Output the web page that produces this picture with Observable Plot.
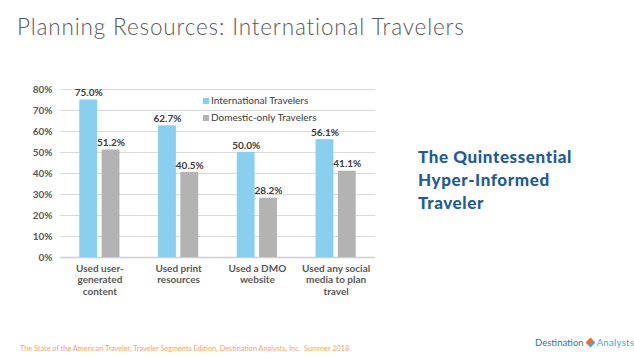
<!DOCTYPE html>
<html>
<head>
<meta charset="utf-8">
<script src="https://cdn.jsdelivr.net/npm/d3@7"></script>
<script src="https://cdn.jsdelivr.net/npm/@observablehq/plot@0.6"></script>
<style>
  html, body { margin: 0; padding: 0; background: #ffffff; }
  body { width: 634px; height: 358px; position: relative; overflow: hidden; font-family: Lato, "Open Sans", sans-serif; }
  #title { position: absolute; left: 17px; top: 13px; font-size: 22.5px; font-weight: 300; color: #595959; white-space: nowrap; letter-spacing: 0.85px; }
  #chart { position: absolute; left: 0; top: 0; width: 634px; height: 300px; }
  #chart svg { position: absolute; left: 0; top: 0; }
  #legend { position: absolute; left: 203px; top: 93px; font-size: 10px; color: #404040; font-weight: 400; }
  #legend .row { height: 16.6px; line-height: 15px; white-space: nowrap; }
  #legend .sw { display: inline-block; width: 6px; height: 6px; margin-right: 2px; vertical-align: 0px; }
  #callout { position: absolute; left: 418px; top: 145px; font-size: 17px; line-height: 23px; font-weight: 900; color: #1f5c99; letter-spacing: 0.6px; }
  #footer { position: absolute; left: 20px; top: 344px; font-size: 7.3px; color: #f5a468; white-space: nowrap; }
  #logo { position: absolute; left: 535px; top: 337px; font-size: 9.5px; white-space: nowrap; }
  #logo .d { color: #2f78ad; }
  #logo .a { color: #4aa3dc; letter-spacing: 0.3px; }
  #logo .dm { display: inline-block; width: 7px; height: 7px; transform: rotate(45deg); margin: 0 3px; background: linear-gradient(90deg, #f26b2a 50%, #4aa3dc 50%); vertical-align: 0px; }
</style>
</head>
<body>
<div id="title">Planning Resources: International Travelers</div>
<div id="chart"></div>
<div id="legend"></div>
<div id="callout">The Quintessential<br>Hyper-Informed<br>Traveler</div>
<div id="footer">The State of the American Traveler, Traveler Segments Edition, Destination Analysts, Inc.&nbsp; Summer 2018</div>
<div id="logo"><span class="d">Destination</span><span class="dm"></span><span class="a">Analysts</span></div>
<script>
// ---- data ----
const categories = ["ugc", "print", "dmo", "social"];
const categoryLabels = ["Used user-\ngenerated\ncontent", "Used print\nresources", "Used a DMO\nwebsite", "Used any social\nmedia to plan\ntravel"];
const series = ["International Travelers", "Domestic-only Travelers"];
const international = [75.0, 62.7, 50.0, 56.1];
const domestic = [51.2, 40.5, 28.2, 41.1];
const yTicks = [0, 10, 20, 30, 40, 50, 60, 70, 80];
const colors = ["#89cff0", "#b3b3b3"];

const rows = [];
categories.forEach((c, i) => {
  rows.push({category: c, series: series[0], value: international[i]});
  rows.push({category: c, series: series[1], value: domestic[i]});
});

const W = 634, H = 300;
const M = {left: 60, right: 259, top: 89, bottom: 43};
const font = {fontFamily: "Lato, 'Open Sans', sans-serif", fontSize: "10px", fontWeight: 700, color: "#595959"};
const fxLabel = d => categoryLabels[categories.indexOf(d)];

// background: gridlines + y axis
const back = Plot.plot({
  width: W, height: H,
  marginLeft: M.left, marginRight: M.right, marginTop: M.top, marginBottom: M.bottom,
  style: {...font, background: "transparent", overflow: "visible"},
  x: {axis: null},
  y: {domain: [0, 80], ticks: yTicks, tickFormat: d => d + "%", tickSize: 0, tickPadding: 8, label: null},
  marks: [
    Plot.ruleY(yTicks.filter(t => t > 0), {stroke: "#d9d9d9", strokeWidth: 1}),
    Plot.ruleY([0], {stroke: "#d0d0d0", strokeWidth: 1.5})
  ]
});

// foreground: grouped bars
const hasAxisMarks = typeof Plot.axisFx === "function";
const marks = [
  Plot.barY(rows, {x: "series", y: "value", fill: "series"}),
  Plot.text(rows, {x: "series", y: "value", text: d => d.value.toFixed(1) + "%", dy: -7,
                   fill: "#404040", fontSize: 10, fontWeight: 700})
];
if (hasAxisMarks) {
  marks.push(Plot.axisFx({anchor: "bottom", tickSize: 0, tickPadding: 6, label: null,
                          tickFormat: fxLabel, lineHeight: 1.15, fill: "#595959"}));
}
const front = Plot.plot({
  width: W, height: H,
  marginLeft: M.left, marginRight: M.right, marginTop: M.top, marginBottom: M.bottom,
  style: {...font, background: "transparent", overflow: "visible"},
  facet: {data: rows, x: "category"},
  fx: hasAxisMarks
    ? {domain: categories, paddingInner: 0.49, paddingOuter: 0.245, round: false, label: null}
    : {domain: categories, paddingInner: 0.49, paddingOuter: 0.245, round: false, axis: "bottom",
       tickSize: 0, tickPadding: 6, label: null, tickFormat: fxLabel},
  x: {domain: series, paddingInner: 0.2, paddingOuter: 0, round: false, axis: null},
  y: {domain: [0, 80], axis: null},
  color: {domain: series, range: colors},
  marks
});

const chart = document.getElementById("chart");
chart.appendChild(back);
chart.appendChild(front);

// legend
const legend = document.getElementById("legend");
series.forEach((s, i) => {
  const row = document.createElement("div");
  row.className = "row";
  const sw = document.createElement("span");
  sw.className = "sw";
  sw.style.background = colors[i];
  row.appendChild(sw);
  row.appendChild(document.createTextNode(s));
  legend.appendChild(row);
});
</script>
</body>
</html>
